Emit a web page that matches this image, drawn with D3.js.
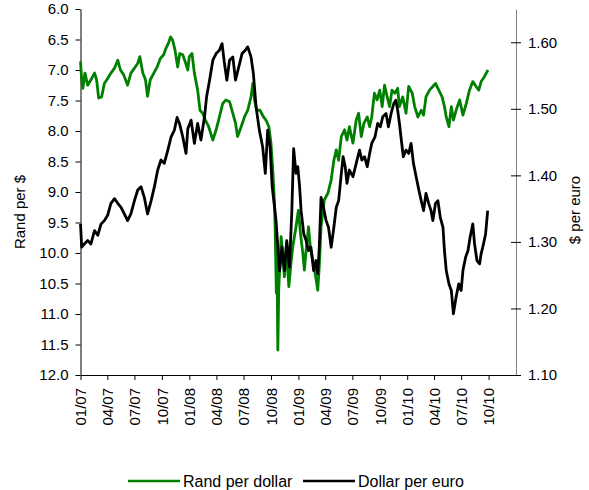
<!DOCTYPE html>
<html>
<head>
<meta charset="utf-8">
<script src="https://cdn.jsdelivr.net/npm/d3@7"></script>
<style>
  body { margin: 0; background: #fff; }
  text { font-family: "Liberation Sans", Arial, sans-serif; fill: #000; }
</style>
</head>
<body>
<div class="chart"></div>
<script>
// Rand per dollar (left axis, inverted)
const randDates = ["2007-01-01","2007-01-05","2007-01-09","2007-01-16","2007-01-25","2007-02-05","2007-02-17","2007-02-24","2007-03-03","2007-03-13","2007-03-22","2007-04-02","2007-04-13","2007-04-25","2007-05-06","2007-05-15","2007-05-26","2007-06-08","2007-06-19","2007-07-01","2007-07-12","2007-07-19","2007-07-29","2007-08-07","2007-08-14","2007-08-23","2007-09-04","2007-09-15","2007-09-26","2007-10-07","2007-10-15","2007-10-23","2007-10-30","2007-11-06","2007-11-14","2007-11-23","2007-11-30","2007-12-10","2007-12-18","2007-12-27",
  "2008-01-01","2008-01-10","2008-01-18","2008-01-29","2008-02-06","2008-02-15","2008-02-24","2008-03-06","2008-03-20","2008-03-31","2008-04-11","2008-04-22","2008-05-03","2008-05-15","2008-05-26","2008-06-04","2008-06-11","2008-06-23","2008-07-04","2008-07-15","2008-07-26","2008-08-01","2008-08-07","2008-08-14","2008-08-25","2008-09-06","2008-09-14","2008-09-24","2008-10-01","2008-10-07","2008-10-13","2008-10-15","2008-10-19","2008-10-21","2008-10-24","2008-10-27","2008-11-04","2008-11-10","2008-11-15","2008-11-21","2008-11-30","2008-12-07","2008-12-13","2008-12-24",
  "2009-01-01","2009-01-08","2009-01-16","2009-01-21","2009-01-27","2009-02-04","2009-02-10","2009-02-18","2009-02-26","2009-03-07","2009-03-12","2009-03-18","2009-03-29","2009-04-10","2009-04-21","2009-04-30","2009-05-08","2009-05-16","2009-05-25","2009-06-05","2009-06-13","2009-06-21","2009-07-03","2009-07-14","2009-07-22","2009-07-31","2009-08-09","2009-08-20","2009-08-28","2009-09-04","2009-09-13","2009-09-22","2009-10-01","2009-10-09","2009-10-17","2009-10-26","2009-11-03","2009-11-11","2009-11-21","2009-11-30","2009-12-06","2009-12-17","2009-12-28",
  "2010-01-06","2010-01-18","2010-01-26","2010-02-06","2010-02-17","2010-02-25","2010-03-05","2010-03-17","2010-03-28","2010-04-06","2010-04-17","2010-04-28","2010-05-06","2010-05-12","2010-05-21","2010-05-29","2010-06-05","2010-06-14","2010-06-26","2010-07-07","2010-07-18","2010-07-29","2010-08-09","2010-08-20","2010-08-29","2010-09-06","2010-09-17","2010-09-29"];
const randPerDollar = [6.86,7.16,7.30,7.05,7.25,7.16,7.05,7.16,7.46,7.44,7.22,7.14,7.05,6.97,6.84,7.00,7.08,7.25,7.05,6.97,6.89,6.78,7.05,7.16,7.43,7.16,7.05,6.95,6.81,6.75,6.64,6.56,6.46,6.51,6.67,6.95,6.73,6.75,6.86,7.00,
  6.78,6.73,7.05,7.33,7.66,7.71,7.82,7.93,8.15,7.98,7.77,7.55,7.49,7.52,7.71,7.87,8.09,7.93,7.77,7.66,7.44,7.22,7.49,7.66,7.66,7.77,7.82,7.93,8.20,8.64,9.19,9.60,10.66,10.10,11.59,10.61,9.73,10.06,10.39,9.90,10.55,10.17,9.90,9.57,
  9.30,9.68,10.01,10.28,9.95,9.57,9.90,10.11,10.33,10.61,10.22,9.57,9.13,9.02,8.80,8.48,8.31,8.48,8.09,7.98,8.15,7.93,8.20,7.82,7.71,8.09,7.87,7.77,7.93,7.77,7.38,7.49,7.33,7.60,7.25,7.44,7.60,7.33,7.38,7.30,7.60,7.44,7.71,
  7.27,7.38,7.60,7.77,7.66,7.74,7.44,7.33,7.27,7.22,7.33,7.44,7.60,7.77,7.93,7.60,7.82,7.66,7.49,7.74,7.55,7.33,7.19,7.27,7.33,7.19,7.11,7.00];

// Dollar per euro (right axis)
const euroDates = ["2007-01-01","2007-01-05","2007-01-14","2007-01-25","2007-02-05","2007-02-17","2007-02-28","2007-03-11","2007-03-22","2007-04-02","2007-04-13","2007-04-25","2007-05-06","2007-05-17","2007-05-28","2007-06-08","2007-06-19","2007-07-01","2007-07-12","2007-07-23","2007-08-03","2007-08-14","2007-08-26","2007-09-06","2007-09-17","2007-09-28","2007-10-09","2007-10-21","2007-11-01","2007-11-12","2007-11-21","2007-11-29","2007-12-10","2007-12-21","2007-12-27",
  "2008-01-07","2008-01-18","2008-01-29","2008-02-09","2008-02-21","2008-02-28","2008-03-09","2008-03-20","2008-03-31","2008-04-11","2008-04-20","2008-04-28","2008-05-06","2008-05-15","2008-05-26","2008-06-04","2008-06-15","2008-06-26","2008-07-07","2008-07-15","2008-07-26","2008-08-03","2008-08-12","2008-08-23","2008-09-03","2008-09-12","2008-09-20","2008-09-28","2008-10-05","2008-10-13","2008-10-18","2008-10-24","2008-10-30","2008-11-07","2008-11-15","2008-11-23","2008-12-02","2008-12-10","2008-12-16","2008-12-24","2008-12-30",
  "2009-01-05","2009-01-10","2009-01-19","2009-01-27","2009-02-04","2009-02-12","2009-02-21","2009-03-01","2009-03-07","2009-03-12","2009-03-18","2009-03-26","2009-04-04","2009-04-12","2009-04-21","2009-04-30","2009-05-08","2009-05-16","2009-05-25","2009-05-31","2009-06-07","2009-06-13","2009-06-21","2009-07-03","2009-07-14","2009-07-25","2009-08-02","2009-08-11","2009-08-20","2009-08-28","2009-09-04","2009-09-15","2009-09-24","2009-10-03","2009-10-11","2009-10-22","2009-10-30","2009-11-08","2009-11-17","2009-11-24","2009-11-30","2009-12-06","2009-12-11","2009-12-19","2009-12-28",
  "2010-01-06","2010-01-14","2010-01-22","2010-01-31","2010-02-09","2010-02-17","2010-02-25","2010-03-05","2010-03-14","2010-03-22","2010-03-28","2010-04-06","2010-04-14","2010-04-22","2010-05-01","2010-05-06","2010-05-12","2010-05-21","2010-05-29","2010-06-05","2010-06-14","2010-06-23","2010-07-01","2010-07-07","2010-07-16","2010-07-24","2010-07-31","2010-08-09","2010-08-15","2010-08-23","2010-09-01","2010-09-06","2010-09-14","2010-09-21","2010-09-28"];
const dollarPerEuro = [1.327,1.292,1.297,1.302,1.297,1.317,1.310,1.327,1.332,1.340,1.358,1.365,1.358,1.352,1.342,1.332,1.342,1.362,1.378,1.383,1.367,1.342,1.362,1.383,1.408,1.423,1.418,1.438,1.458,1.468,1.487,1.478,1.458,1.433,1.470,
  1.483,1.448,1.478,1.453,1.488,1.518,1.543,1.573,1.583,1.588,1.598,1.568,1.543,1.573,1.578,1.543,1.563,1.583,1.588,1.593,1.578,1.553,1.503,1.468,1.443,1.403,1.468,1.443,1.383,1.352,1.332,1.292,1.257,1.292,1.257,1.302,1.262,1.347,1.440,1.403,1.413,
  1.383,1.347,1.312,1.302,1.287,1.292,1.257,1.272,1.252,1.292,1.367,1.352,1.332,1.322,1.292,1.322,1.352,1.362,1.403,1.428,1.413,1.388,1.408,1.398,1.418,1.438,1.423,1.428,1.413,1.433,1.448,1.458,1.478,1.473,1.488,1.493,1.473,1.493,1.508,1.513,1.498,1.478,1.458,1.428,1.438,
  1.433,1.448,1.418,1.398,1.378,1.362,1.347,1.373,1.358,1.347,1.332,1.358,1.362,1.337,1.322,1.287,1.257,1.237,1.227,1.192,1.217,1.237,1.227,1.257,1.277,1.287,1.307,1.327,1.297,1.272,1.267,1.282,1.297,1.312,1.347];

const xTicks = ["2007-01-01","2007-04-01","2007-07-01","2007-10-01","2008-01-01","2008-04-01","2008-07-01","2008-10-01",
  "2009-01-01","2009-04-01","2009-07-01","2009-10-01","2010-01-01","2010-04-01","2010-07-01","2010-10-01"];
const leftTicks = [6.0,6.5,7.0,7.5,8.0,8.5,9.0,9.5,10.0,10.5,11.0,11.5,12.0];
const rightTicks = [1.10,1.20,1.30,1.40,1.50,1.60];

function drawChart() {
    const width = 589, height = 490;
    const parse = d3.timeParse("%Y-%m-%d");

    const svg = d3.select(".chart").append("svg")
        .attr("width", width)
        .attr("height", height);

    const x = d3.scaleTime()
        .domain([parse("2007-01-01"), parse("2011-01-01")])
        .range([80.5, 516]);
    const yLeft = d3.scaleLinear().domain([6, 12]).range([9, 375]);
    const yRight = d3.scaleLinear().domain([1.10, 1.65]).range([375, 9]);

    // x axis
    const xAxis = svg.append("g")
        .attr("transform", "translate(0,375)")
        .call(d3.axisBottom(x)
            .tickValues(xTicks.map(parse))
            .tickFormat(d3.timeFormat("%m/%y"))
            .tickSize(5)
            .tickSizeOuter(0));
    xAxis.select(".domain").attr("stroke", "#000");
    xAxis.selectAll("text")
        .style("font-size", "15px")
        .attr("transform", "rotate(-90)")
        .attr("text-anchor", "end")
        .attr("x", -13)
        .attr("y", 0)
        .attr("dy", "0.35em");

    // left axis
    const leftAxis = svg.append("g")
        .attr("transform", "translate(80.5,0)")
        .call(d3.axisLeft(yLeft)
            .tickValues(leftTicks)
            .tickFormat(d3.format(".1f"))
            .tickSize(5)
            .tickPadding(7)
            .tickSizeOuter(0));
    leftAxis.selectAll("text").style("font-size", "15px");

    // right axis, grey with crossing ticks
    const rightAxis = svg.append("g")
        .attr("transform", "translate(516,0)")
        .call(d3.axisRight(yRight)
            .tickValues(rightTicks)
            .tickFormat(d3.format(".2f"))
            .tickSize(5)
            .tickPadding(7)
            .tickSizeOuter(0));
    rightAxis.select(".domain").attr("stroke", "#808080");
    rightAxis.selectAll(".tick line").attr("x1", -5).attr("stroke", "#000");
    rightAxis.selectAll("text").style("font-size", "15px");

    // axis titles
    svg.append("text")
        .attr("transform", "translate(20,212) rotate(-90)")
        .attr("text-anchor", "middle")
        .attr("dy", "0.35em")
        .style("font-size", "15px")
        .text("Rand per $");
    svg.append("text")
        .attr("transform", "translate(575,210) rotate(-90)")
        .attr("text-anchor", "middle")
        .attr("dy", "0.35em")
        .style("font-size", "15px")
        .text("$ per euro");

    // lines
    const randData = randDates.map((d, i) => ({date: parse(d), value: randPerDollar[i]}));
    const euroData = euroDates.map((d, i) => ({date: parse(d), value: dollarPerEuro[i]}));

    svg.append("path")
        .datum(randData)
        .attr("fill", "none")
        .attr("stroke", "#008000")
        .attr("stroke-width", 2.8)
        .attr("stroke-linejoin", "round")
        .attr("d", d3.line().x(d => x(d.date)).y(d => yLeft(d.value)));

    svg.append("path")
        .datum(euroData)
        .attr("fill", "none")
        .attr("stroke", "#000")
        .attr("stroke-width", 2.8)
        .attr("stroke-linejoin", "round")
        .attr("d", d3.line().x(d => x(d.date)).y(d => yRight(d.value)));

    // legend
    const legendItems = [
        {label: "Rand per dollar", color: "#008000", x: 128},
        {label: "Dollar per euro", color: "#000", x: 303}
    ];
    const legend = svg.append("g").attr("transform", "translate(0,481)");
    legend.selectAll("line")
        .data(legendItems)
        .enter()
        .append("line")
            .attr("x1", d => d.x)
            .attr("x2", d => d.x + 52)
            .attr("stroke", d => d.color)
            .attr("stroke-width", 2.5);
    legend.selectAll("text")
        .data(legendItems)
        .enter()
        .append("text")
            .attr("x", d => d.x + 55)
            .attr("dy", "0.35em")
            .style("font-size", "16px")
            .text(d => d.label);
}

drawChart();
</script>
</body>
</html>
